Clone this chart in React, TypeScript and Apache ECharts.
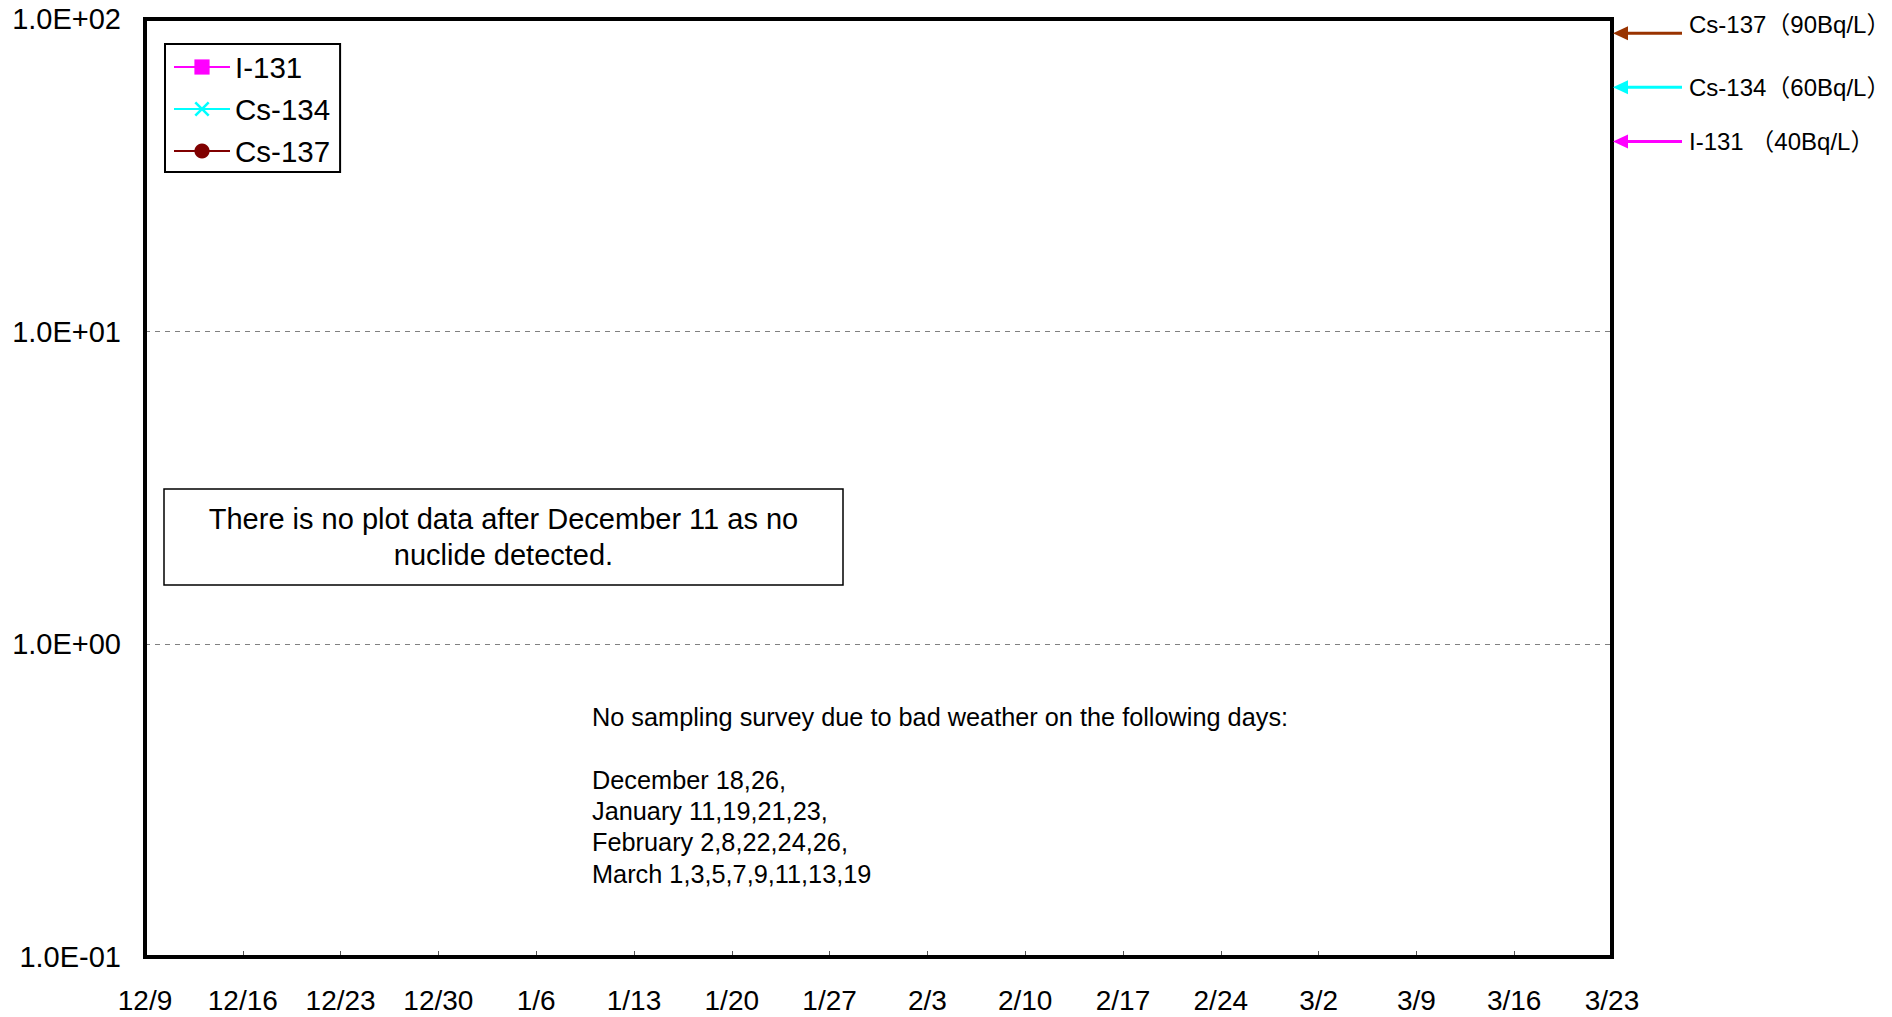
import React, { useEffect, useRef } from 'react';
import * as echarts from 'echarts';

// ---- Data ----
const xTickLabels = ['12/9', '12/16', '12/23', '12/30', '1/6', '1/13', '1/20', '1/27', '2/3', '2/10', '2/17', '2/24', '3/2', '3/9', '3/16', '3/23'];
const DAYS_PER_TICK = 7;

const yTickValues = [0.1, 1, 10, 100];
const yTickLabels = ['1.0E-01', '1.0E+00', '1.0E+01', '1.0E+02'];

const seriesNames = ['I-131', 'Cs-134', 'Cs-137'];
// No nuclide detected in the displayed period: no plotted points
const i131Values: [number, number][] = [];
const cs134Values: [number, number][] = [];
const cs137Values: [number, number][] = [];

const limitLabels = ['Cs-137（90Bq/L）', 'Cs-134（60Bq/L）', 'I-131 （40Bq/L）'];
const limitValues = [90, 60, 40];

const noteText = 'There is no plot data after December 11 as no\nnuclide detected.';
const noSurveyIntro = 'No sampling survey due to bad weather on the following days:';
const noSurveyMonths = ['December', 'January', 'February', 'March'];
const noSurveyDays = [[18, 26], [11, 19, 21, 23], [2, 8, 22, 24, 26], [1, 3, 5, 7, 9, 11, 13, 19]];

// ---- Styles ----
const FONT = '"Liberation Sans", Arial, sans-serif';
const FONT_JP = '"Liberation Sans", Arial, "Noto Sans CJK JP", sans-serif';
const seriesColors = ['#FF00FF', '#00FFFF', '#800000'];
const limitColors = ['#993300', '#00FFFF', '#FF00FF'];
const arrowDy = [0, -1, -2];
const labelDy = [-9, 0, 0];
const CROSS = 'path://M0,1.2L1.2,0L5,3.8L8.8,0L10,1.2L6.2,5L10,8.8L8.8,10L5,6.2L1.2,10L0,8.8L3.8,5Z';

export default function App() {
  const ref = useRef<HTMLDivElement>(null);

  useEffect(() => {
    const el = ref.current;
    if (!el) return;
    const chart = echarts.init(el, undefined, { renderer: 'svg' });
    const xMax = (xTickLabels.length - 1) * DAYS_PER_TICK;

    const mkSeries = (i: number, data: [number, number][], symbol: string, size: number) => ({
      name: seriesNames[i],
      type: 'line',
      data,
      symbol,
      symbolSize: size,
      itemStyle: { color: seriesColors[i] },
      lineStyle: { color: seriesColors[i], width: 2 },
    });

    chart.setOption({
      animation: false,
      backgroundColor: '#ffffff',
      grid: {
        left: 145, right: 280, top: 19, bottom: 60,
        show: true, borderColor: '#000000', borderWidth: 4,
        backgroundColor: 'transparent', z: 3,
      },
      legend: {
        orient: 'vertical',
        left: 165, top: 44,
        backgroundColor: '#ffffff',
        borderColor: '#000000', borderWidth: 2,
        padding: [8, 10, 6, 8],
        itemWidth: 56, itemHeight: 19, itemGap: 12,
        textStyle: { fontSize: 29.5, color: '#000000', fontFamily: FONT },
        data: seriesNames,
        z: 6,
      },
      xAxis: {
        type: 'value', min: 0, max: xMax, interval: DAYS_PER_TICK,
        axisLine: { show: false },
        axisTick: { show: true, inside: true, length: 6, lineStyle: { color: '#555555', width: 1 } },
        splitLine: { show: false },
        axisLabel: {
          margin: 29, fontSize: 28, color: '#000000', fontFamily: FONT,
          showMinLabel: true, showMaxLabel: true,
          formatter: (v: number) => xTickLabels[Math.round(v / DAYS_PER_TICK)] ?? '',
        },
      },
      yAxis: {
        type: 'log', logBase: 10, min: 0.1, max: 100,
        axisLine: { show: false },
        axisTick: { show: false },
        splitLine: { show: true, showMinLine: false, showMaxLine: false, lineStyle: { color: '#808080', width: 1, type: [5, 5] } },
        axisLabel: {
          margin: 24, fontSize: 29, color: '#000000', fontFamily: FONT,
          formatter: (v: number) => {
            const i = yTickValues.findIndex((t) => Math.abs(Math.log10(t) - Math.log10(v)) < 1e-6);
            return i >= 0 ? yTickLabels[i] : '';
          },
        },
      },
      series: [
        mkSeries(0, i131Values, 'rect', 14),
        mkSeries(1, cs134Values, CROSS, 14),
        mkSeries(2, cs137Values, 'circle', 14),
      ],
    });

    const rightX = chart.convertToPixel({ xAxisIndex: 0 }, xMax) as number;
    const tip = rightX + 1;
    const graphics: any[] = [];
    limitValues.forEach((v, i) => {
      const y = (chart.convertToPixel({ yAxisIndex: 0 }, v) as number) + arrowDy[i];
      graphics.push({
        type: 'line', z: 10,
        shape: { x1: tip + 10, y1: y, x2: tip + 69, y2: y },
        style: { stroke: limitColors[i], lineWidth: 3 },
      });
      graphics.push({
        type: 'polygon', z: 10,
        shape: { points: [[tip, y], [tip + 15, y - 7], [tip + 15, y + 7]] },
        style: { fill: limitColors[i] },
      });
      graphics.push({
        type: 'text', z: 10,
        x: tip + 76, y: y + labelDy[i],
        style: {
          text: limitLabels[i], fill: '#000000', fontSize: 24, fontFamily: FONT_JP,
          align: 'left', verticalAlign: 'middle', textAlign: 'left', textVerticalAlign: 'middle',
        },
      });
    });

    // Note box
    graphics.push({
      type: 'rect', z: 10,
      shape: { x: 164, y: 489, width: 679, height: 96 },
      style: { fill: '#ffffff', stroke: '#000000', lineWidth: 1.5 },
    });
    graphics.push({
      type: 'text', z: 11,
      x: 503.5, y: 537,
      style: {
        text: noteText, fill: '#000000', fontSize: 29, fontFamily: FONT, lineHeight: 36,
        align: 'center', verticalAlign: 'middle', textAlign: 'center', textVerticalAlign: 'middle',
      },
    });

    const surveyLines = [noSurveyIntro, '', ...noSurveyMonths.map((m, i) => `${m} ${noSurveyDays[i].join(',')}${i < noSurveyMonths.length - 1 ? ',' : ''}`)];
    graphics.push({
      type: 'text', z: 11,
      x: 592, y: 701,
      style: {
        text: surveyLines.join('\n'), fill: '#000000', fontSize: 25.3, fontFamily: FONT, lineHeight: 31.4,
        align: 'left', verticalAlign: 'top', textAlign: 'left', textVerticalAlign: 'top',
      },
    });

    chart.setOption({ graphic: graphics });

    return () => chart.dispose();
  }, []);

  return (
    <div
      ref={ref}
      style={{ position: 'fixed', left: 0, top: 0, width: 1892, height: 1017, background: '#ffffff' }}
    />
  );
}
